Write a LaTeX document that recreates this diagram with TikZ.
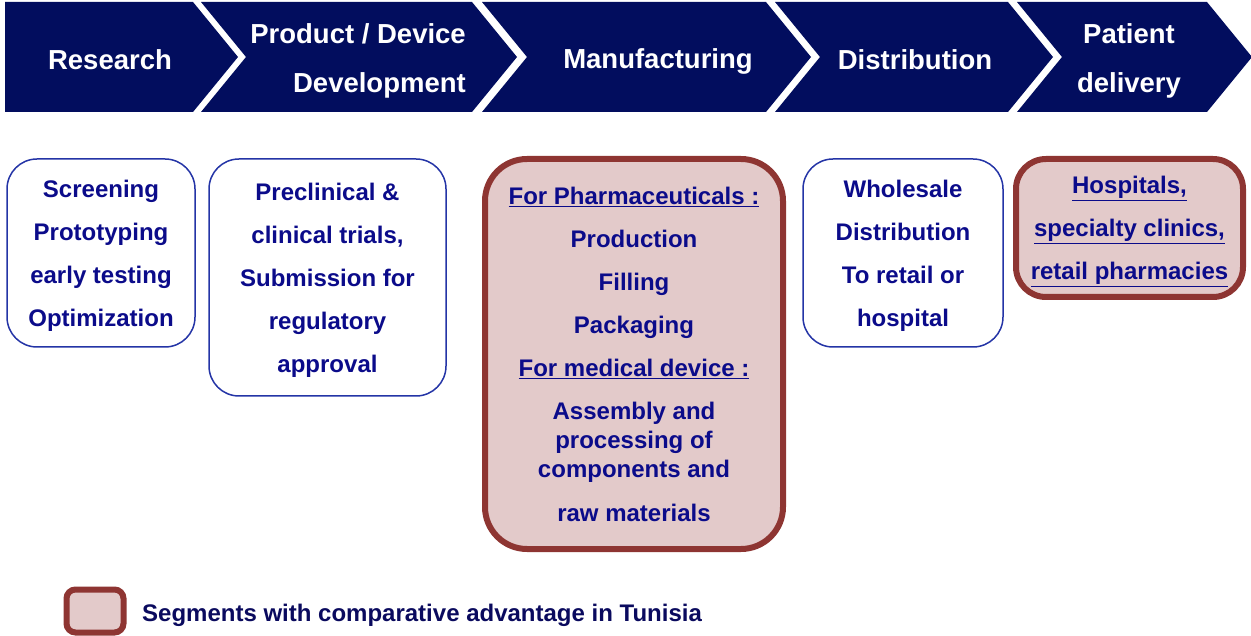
\documentclass[tikz,border=0pt]{standalone}
\usepackage{fontspec}
\setmainfont{Liberation Sans}
\usetikzlibrary{positioning}
\definecolor{navy}{HTML}{020D5E}
\definecolor{ink}{HTML}{0B0B8A}
\definecolor{edge}{HTML}{2434A6}
\definecolor{brick}{HTML}{8E3532}
\definecolor{blush}{HTML}{E3CACA}
\definecolor{legendtxt}{HTML}{0A0A5E}
\tikzset{
  stage/.style={text=white,font=\fontsize{27.5}{49}\selectfont\bfseries,align=center,inner sep=0pt},
  seg/.style={draw=edge,line width=1.5pt,rounded corners=30pt,fill=white,text=ink,
    font=\fontsize{24}{43}\selectfont\bfseries,align=center,inner sep=0pt,text depth=-3pt},
  adv/.style={seg,draw=brick,fill=blush,line width=6pt}
}

\begin{document}
\begin{tikzpicture}[x=1pt,y=-1pt]
\useasboundingbox (0,0) rectangle (1251,636);
% value chain chevrons
\fill[navy] (5,2)--(193,2)--++(45,55)--(193,112)--(5,112)--cycle;
\foreach \a/\b in {201/472,482/766,775/1008,1017/1207}{
  \fill[navy] (\a,2)--(\b,2)--++(45,55)--(\b,112)--(\a,112)--++(45,-55)--cycle;}
\node[stage] (research) at (110,60) {Research};
\node[stage,align=right,anchor=east] (develop) at (466,61) {Product / Device\\Development};
\node[stage] (manuf) at (658,61) {Manufacturing};
\node[stage] (distrib) at (915,60) {Distribution};
\node[stage] (patient) at (1129,61) {Patient\\delivery};
% segments
\node[seg,minimum width=188,minimum height=188] (screen) at (101,253)
  {Screening\\Prototyping\\early testing\\Optimization};
\node[seg,minimum width=237,minimum height=237] (trials) at (327.5,277.5)
  {Preclinical \&\\clinical trials,\\Submission for\\regulatory\\approval};
\node[adv,rounded corners=42pt,minimum width=298,minimum height=390] (prod) at (634,354)
  {\underline{For Pharmaceuticals :}\\Production\\Filling\\Packaging\\\underline{For medical device :}\\
   Assembly and\\[-14pt]processing of\\[-14pt]components and\\[1pt]raw materials};
\node[seg,minimum width=200,minimum height=188] (whole) at (903,253)
  {Wholesale\\Distribution\\To retail or\\hospital};
\node[adv,minimum width=227,minimum height=138] (hosp) at (1129.5,228)
  {\underline{Hospitals,}\\\underline{specialty clinics,}\\\underline{retail pharmacies}};
% legend
\node[adv,rounded corners=9pt,minimum width=57,minimum height=43] (key) at (95,611) {};
\node[anchor=west,text=legendtxt,font=\fontsize{24}{28}\selectfont\bfseries,inner sep=0pt]
  (keytext) at (142,615) {Segments with comparative advantage in Tunisia};
\end{tikzpicture}
\end{document}
